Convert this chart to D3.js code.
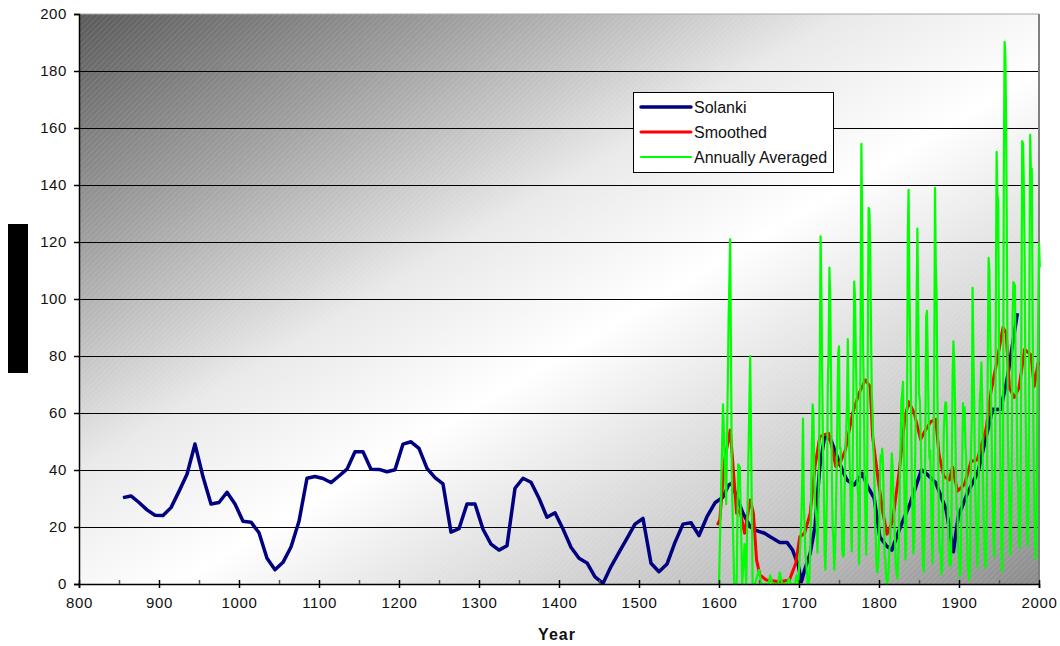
<!DOCTYPE html>
<html>
<head>
<meta charset="utf-8">
<script src="https://cdn.jsdelivr.net/npm/d3@7"></script>
<style>
  html, body { margin: 0; padding: 0; background: #ffffff; }
  svg { display: block; }
  text { font-family: "Liberation Sans", Arial, sans-serif; }
</style>
</head>
<body>
<svg id="chart" width="1060" height="646"></svg>
<script>
// ---------- DATA ----------
const yTickValues = [0, 20, 40, 60, 80, 100, 120, 140, 160, 180, 200];
const xTickValues = [800, 900, 1000, 1100, 1200, 1300, 1400, 1500, 1600, 1700, 1800, 1900, 2000];
const xMinorTickValues = [850, 950, 1050, 1150, 1250, 1350, 1450, 1550, 1650, 1750, 1850, 1950];
const seriesNames = ["Solanki", "Smoothed", "Annually Averaged"];

const solankiYears = [855, 865, 875, 885, 895, 905, 915, 925, 935, 945, 955, 965, 975, 985, 995,
  1005, 1015, 1025, 1035, 1045, 1055, 1065, 1075, 1085, 1095, 1105, 1115, 1125, 1135, 1145,
  1155, 1165, 1175, 1185, 1195, 1205, 1215, 1225, 1235, 1245, 1255, 1265, 1275, 1285, 1295,
  1305, 1315, 1325, 1335, 1345, 1355, 1365, 1375, 1385, 1395, 1405, 1415, 1425, 1435, 1445,
  1455, 1465, 1475, 1485, 1495, 1505, 1515, 1525, 1535, 1545, 1555, 1565, 1575, 1585, 1595,
  1605, 1612, 1616, 1622, 1630, 1639, 1647, 1657, 1665, 1676, 1685, 1692, 1699, 1703, 1707,
  1714, 1720, 1726, 1732, 1740, 1746, 1755, 1760, 1769, 1779, 1786, 1794, 1801, 1809, 1816,
  1826, 1839, 1853, 1859, 1871, 1884, 1893, 1899, 1910, 1924, 1933, 1942, 1952, 1960, 1973];
const solankiValues = [30.3, 30.9, 28.6, 26, 24.1, 24, 26.8, 32.5, 38.5, 49.1, 37.6, 28.1, 28.6, 32.2, 28.1,
  22, 21.7, 18, 9, 5, 7.6, 13, 22, 37.1, 37.7, 37, 35.6, 37.9, 40.3, 46.4,
  46.4, 40.3, 40.2, 39.4, 40.1, 49.1, 49.9, 47.6, 40.6, 37.3, 35.1, 18.2, 19.4, 28.1, 28.1,
  19.2, 14, 11.9, 13.4, 33.6, 37.1, 35.7, 30.1, 23.4, 25, 19.3, 12.9, 9, 7.4, 2.5,
  0.2, 6.1, 11.1, 16, 21, 23, 7.3, 4.3, 7, 14.6, 21, 21.5, 17, 23.6, 28.5,
  30.5, 34.7, 35.3, 30.6, 24.8, 20.1, 18.7, 17.8, 16.4, 14.6, 14.6, 11.9, 6.7, 0.8, 4.9,
  10.8, 20.1, 41.2, 51.7, 50.5, 45.9, 39.4, 36.5, 34.7, 38.8, 34.1, 30.1, 16.6, 13.5, 11.9,
  19.5, 28.3, 40, 38.8, 35.5, 26, 11.3, 23.6, 31.5, 39.5, 50.5, 61.3, 61.2, 71.6, 95];

const smoothYears = [1598, 1601, 1607, 1614, 1617, 1622, 1626, 1632, 1639, 1643, 1647, 1651, 1659, 1676, 1688,
  1696, 1701, 1707, 1714, 1720, 1726, 1737, 1742, 1746, 1752, 1758, 1767, 1775, 1783, 1789,
  1792, 1799, 1805, 1810, 1817, 1826, 1832, 1837, 1844, 1852, 1858, 1865, 1871, 1875, 1881,
  1888, 1892, 1898, 1907, 1915, 1923, 1934, 1940, 1948, 1955, 1959, 1963, 1969, 1975, 1982,
  1990, 1994, 1999];
const smoothValues = [20.7, 22.5, 43.5, 54, 43.5, 24.8, 26, 17.8, 29.5, 24.8, 8.4, 3.2, 1.4, 0.8, 1.4,
  7.3, 16.6, 17.8, 24.8, 41.2, 51.7, 52.9, 47, 41.2, 42.9, 47, 59.9, 66.9, 71.6, 69.2,
  51.7, 36.5, 24.8, 17.5, 22, 41.2, 57.5, 64, 60, 50.7, 54, 57, 57.8, 45.5, 37.8,
  36.5, 41, 32.6, 35, 43, 43.6, 54.6, 67.5, 79, 90, 88, 68.8, 65.5, 68.8, 82.3,
  80.4, 69.4, 77.8];

// Annually averaged: early part (turning points)
const annualEarlyYears = [1600, 1605, 1609, 1612, 1614, 1616, 1619, 1622, 1624, 1626, 1629, 1632, 1634, 1639, 1642,
  1645, 1650, 1653, 1662, 1664, 1667, 1674, 1676, 1679, 1685, 1687, 1690, 1695, 1697, 1699];
const annualEarlyValues = [0, 63, 28, 93, 121, 38, 0, 0, 42, 41, 0, 14, 0, 80, 0,
  0, 5, 0, 0, 3, 0, 0, 4, 0, 0, 2, 0, 0, 3, 0];
// Annually averaged: yearly values from 1700 on
const annualStartYear = 1700;
const annualValues = [
  5, 11, 16, 23, 36, 58, 29, 20, 10, 8,
  3, 0, 0, 2, 11, 27, 47, 63, 60, 39,
  28, 26, 22, 11, 21, 40, 78, 122, 103, 73,
  47, 35, 11, 5, 16, 34, 70, 81, 111, 101,
  73, 40, 20, 16, 5, 11, 22, 40, 60, 80.9,
  83.4, 47.7, 47.8, 30.7, 12.2, 9.6, 10.2, 32.4, 47.6, 54,
  62.9, 85.9, 61.2, 45.1, 36.4, 20.9, 11.4, 37.8, 69.8, 106.1,
  100.8, 81.6, 66.5, 34.8, 30.6, 7, 19.8, 92.5, 154.4, 125.9,
  84.8, 68.1, 38.5, 22.8, 10.2, 24.1, 82.9, 132, 130.9, 118.1,
  89.9, 66.6, 60, 46.9, 41, 21.3, 16, 6.4, 4.1, 6.8,
  14.5, 34, 45, 43.1, 47.5, 42.2, 28.1, 10.1, 8.1, 2.5,
  0, 1.4, 5, 12.2, 13.9, 35.4, 45.8, 41.1, 30.1, 23.9,
  15.6, 6.6, 4, 1.8, 8.5, 16.6, 36.3, 49.6, 64.2, 67,
  70.9, 47.8, 27.5, 8.5, 13.2, 56.9, 121.5, 138.3, 103.2, 85.7,
  64.6, 36.7, 24.2, 10.7, 15, 40.1, 61.5, 98.5, 124.7, 96.3,
  66.6, 64.5, 54.1, 39, 20.6, 6.7, 4.3, 22.7, 54.8, 93.8,
  95.8, 77.2, 59.1, 44, 47, 30.5, 16.3, 7.3, 37.6, 74,
  139, 111.2, 101.6, 66.2, 44.7, 17, 11.3, 12.4, 3.4, 6,
  32.3, 54.3, 59.7, 63.7, 63.5, 52.2, 25.4, 13.1, 6.8, 6.3,
  7.1, 35.6, 73, 85.1, 78, 64, 41.8, 26.2, 26.7, 12.1,
  9.5, 2.7, 5, 24.4, 42, 63.5, 53.8, 62, 48.5, 43.9,
  18.6, 5.7, 3.6, 1.4, 9.6, 47.4, 57.1, 103.9, 80.6, 63.6,
  37.6, 26.1, 14.2, 5.8, 16.7, 44.3, 63.9, 69, 77.8, 64.9,
  35.7, 21.2, 11.1, 5.7, 8.7, 36.1, 79.7, 114.4, 109.6, 88.8,
  67.8, 47.5, 30.6, 16.3, 9.6, 33.2, 92.6, 151.6, 136.3, 134.7,
  83.9, 69.4, 31.5, 13.9, 4.4, 38, 141.7, 190.2, 184.8, 159,
  112.3, 53.9, 37.6, 27.9, 10.2, 15.1, 47, 93.8, 105.9, 105.5,
  104.5, 66.6, 68.9, 38, 34.5, 15.5, 12.6, 27.5, 92.5, 155.4,
  154.6, 140.4, 115.9, 66.6, 45.9, 17.9, 13.4, 29.4, 100.2, 157.6,
  142.6, 145.7, 94.3, 54.6, 29.9, 17.5, 8.6, 21.5, 64.3, 93.3,
  119.6, 111
];

// ---------- BUILD ----------
(function () {
const svg = d3.select("#chart");
const pLeft = 79, pRight = 1039, pTop = 14, pBottom = 584;
const x = d3.scaleLinear().domain([800, 2000]).range([pLeft, pRight]);
const y = d3.scaleLinear().domain([0, 200]).range([pBottom, pTop]);

const defs = svg.append("defs");
const grad = defs.append("linearGradient").attr("id", "bg")
  .attr("x1", 0).attr("y1", 0).attr("x2", 1).attr("y2", 1);
[[0, "#5a5a5a"], [0.2, "#9e9e9e"], [0.4, "#e9e9e9"], [0.55, "#ffffff"], [0.85, "#bdbdbd"], [1, "#8a8a8a"]]
  .forEach(([o, c]) => grad.append("stop").attr("offset", o).attr("stop-color", c));
const pat = defs.append("pattern").attr("id", "hatch")
  .attr("width", 4).attr("height", 4).attr("patternUnits", "userSpaceOnUse")
  .attr("patternTransform", "rotate(45)");
pat.append("line").attr("x1", 0).attr("y1", 0).attr("x2", 0).attr("y2", 4)
  .attr("stroke", "#ffffff").attr("stroke-width", 1).attr("stroke-opacity", 0.22);
defs.append("clipPath").attr("id", "clip").append("rect")
  .attr("x", pLeft).attr("y", pTop).attr("width", pRight - pLeft + 2).attr("height", pBottom - pTop);

// plot background
svg.append("rect").attr("x", pLeft).attr("y", pTop).attr("width", pRight - pLeft).attr("height", pBottom - pTop)
  .attr("fill", "url(#bg)");
svg.append("rect").attr("x", pLeft).attr("y", pTop).attr("width", pRight - pLeft).attr("height", pBottom - pTop)
  .attr("fill", "url(#hatch)");

// gridlines
svg.append("g").selectAll("line").data(yTickValues.filter(v => v > 0 && v < 200)).join("line")
  .attr("x1", pLeft).attr("x2", pRight).attr("y1", d => y(d)).attr("y2", d => y(d))
  .attr("stroke", "#000").attr("stroke-width", 1).attr("shape-rendering", "crispEdges");

// borders
svg.append("line").attr("x1", pLeft).attr("x2", pRight).attr("y1", pTop).attr("y2", pTop)
  .attr("stroke", "#a8a8a8").attr("stroke-width", 1);
svg.append("line").attr("x1", pRight).attr("x2", pRight).attr("y1", pTop).attr("y2", pBottom)
  .attr("stroke", "#808080").attr("stroke-width", 2);

// series
const plot = svg.append("g").attr("clip-path", "url(#clip)");
const line = d3.line().x(d => x(d[0])).y(d => y(d[1]));
const solanki = solankiYears.map((yr, i) => [yr, solankiValues[i]]);
const smooth = smoothYears.map((yr, i) => [yr, smoothValues[i]]);
const annual = annualEarlyYears.map((yr, i) => [yr, annualEarlyValues[i]])
  .concat(annualValues.map((v, i) => [annualStartYear + i, v]));

plot.append("path").datum(solanki).attr("d", line).attr("fill", "none")
  .attr("stroke", "#000080").attr("stroke-width", 3.5).attr("stroke-linejoin", "round");
plot.append("path").datum(smooth).attr("d", line).attr("fill", "none")
  .attr("stroke", "#ff0000").attr("stroke-width", 3).attr("stroke-linejoin", "round");
plot.append("path").datum(annual).attr("d", line).attr("fill", "none")
  .attr("stroke", "#00ff00").attr("stroke-width", 2.2).attr("stroke-linejoin", "round");

// axes
const yAxis = d3.axisLeft(y).tickValues(yTickValues).tickSize(5).tickPadding(7).tickFormat(d3.format("d"));
const gy = svg.append("g").attr("transform", `translate(${pLeft},0)`).call(yAxis);
gy.select(".domain").attr("stroke", "#000").attr("stroke-width", 1.5);

const xAxis = d3.axisBottom(x).tickValues(xTickValues).tickSize(4).tickPadding(9).tickFormat(d3.format("d"));
const gx = svg.append("g").attr("transform", `translate(0,${pBottom})`).call(xAxis);
gx.select(".domain").attr("stroke", "#000").attr("stroke-width", 1.5);
const xAxisIn = d3.axisTop(x).tickValues(xTickValues).tickSize(4).tickFormat("");
const gx2 = svg.append("g").attr("transform", `translate(0,${pBottom})`).call(xAxisIn);
gx2.select(".domain").remove();
const xAxisMinor = d3.axisTop(x).tickValues(xMinorTickValues).tickSize(4).tickFormat("");
const gx3 = svg.append("g").attr("transform", `translate(0,${pBottom})`).call(xAxisMinor);
gx3.select(".domain").remove();
gx3.selectAll("line").attr("stroke", "#555");

svg.selectAll(".tick text").attr("font-size", 15).attr("fill", "#111")
  .attr("font-family", "'Liberation Sans', Arial, sans-serif").style("letter-spacing", "0.6px");
svg.selectAll(".tick line").attr("stroke-width", 1.5);

// axis title
svg.append("text").attr("x", (pLeft + pRight) / 2 - 2).attr("y", 640).attr("text-anchor", "middle")
  .attr("font-size", 16).attr("font-weight", "bold").attr("fill", "#111").style("letter-spacing", "1px")
  .text("Year");

// black box at left (y-axis title area)
svg.append("rect").attr("x", 8).attr("y", 224).attr("width", 20).attr("height", 149).attr("fill", "#000");

// legend
const legend = svg.append("g").attr("transform", "translate(633,92)");
legend.append("rect").attr("x", 0.5).attr("y", 0.5).attr("width", 200).attr("height", 80)
  .attr("fill", "#fff").attr("stroke", "#000").attr("stroke-width", 1);
const legColors = ["#000080", "#ff0000", "#00ff00"];
const legWidths = [3.5, 3, 2.2];
seriesNames.forEach((name, i) => {
  const cy = 15 + i * 25;
  legend.append("line").attr("x1", 8).attr("x2", 58).attr("y1", cy).attr("y2", cy)
    .attr("stroke", legColors[i]).attr("stroke-width", legWidths[i]).attr("stroke-linecap", "round");
  legend.append("text").attr("x", 61).attr("y", cy + 5.5).attr("font-size", 16).attr("fill", "#111")
    .text(name);
});
})();
</script>
</body>
</html>
